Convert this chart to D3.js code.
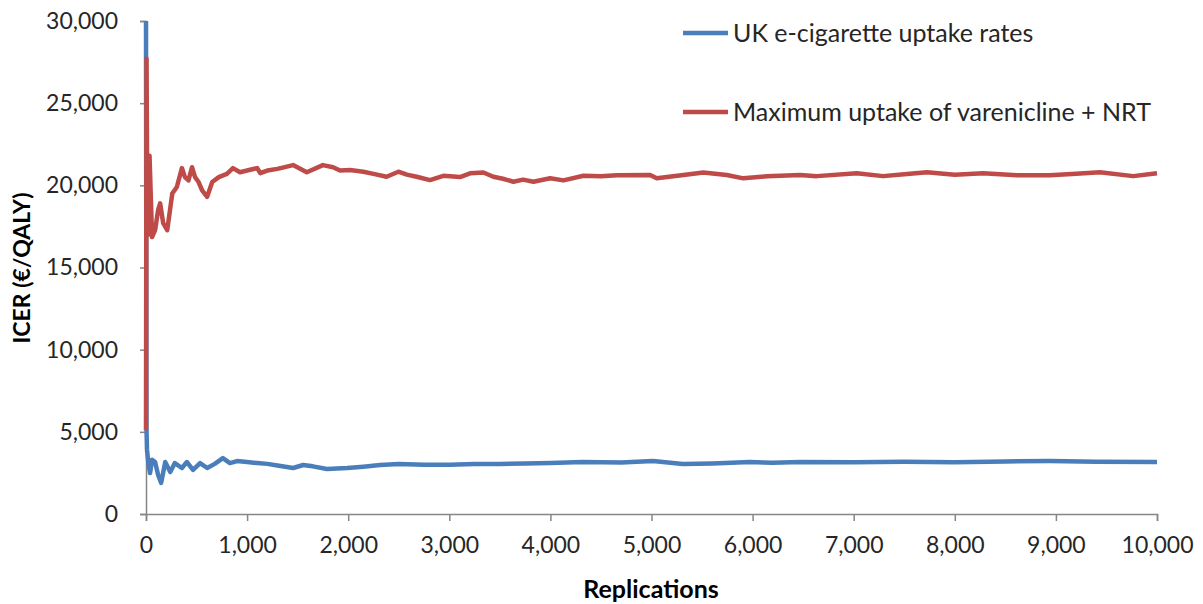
<!DOCTYPE html>
<html><head><meta charset="utf-8">
<script src="https://cdn.jsdelivr.net/npm/d3@7"></script>
<style>
html,body{margin:0;padding:0;background:#fff;}
svg{display:block;font-family:Lato,"Open Sans",sans-serif;}
</style></head>
<body>
<svg id="chart" width="1203" height="604"></svg>
<script>
// ---- data ----
const seriesNames = ["UK e-cigarette uptake rates", "Maximum uptake of varenicline + NRT"];
const blueReps = [0,5,10,25,40,60,90,120,150,190,240,285,355,405,465,535,605,680,760,830,900,1000,1100,1200,1300,1455,1555,1650,1790,1990,2150,2315,2500,2750,3000,3250,3500,3750,4000,4320,4700,5015,5310,5600,5975,6200,6470,7000,7500,8000,8500,8940,9400,10000];
const blueVals = [30000,5100,3900,3000,2490,3300,3160,2370,1890,3160,2550,3100,2800,3160,2680,3100,2800,3050,3400,3100,3220,3160,3100,3050,2950,2800,2980,2900,2740,2800,2880,2980,3040,3000,3000,3040,3040,3080,3100,3160,3130,3220,3040,3080,3160,3120,3160,3150,3180,3150,3200,3220,3180,3160];
const redReps = [0,5,10,20,35,60,90,120,140,170,210,260,305,355,385,420,455,485,520,555,605,655,720,800,860,930,1000,1100,1130,1200,1300,1455,1590,1750,1850,1920,2018,2150,2250,2380,2496,2580,2677,2809,2941,3106,3205,3337,3436,3530,3634,3730,3832,3997,4129,4327,4500,4656,4986,5052,5316,5513,5744,5909,6140,6470,6635,7030,7290,7500,7725,8000,8280,8615,8940,9200,9435,9765,10000];
const redVals = [5100,27700,22000,17000,21800,16850,17270,18500,18900,17700,17270,19500,19900,21050,20500,20300,21100,20500,20200,19700,19300,20200,20500,20700,21050,20800,20900,21050,20740,20900,21000,21230,20800,21230,21100,20900,20930,20830,20700,20525,20830,20650,20525,20320,20580,20500,20730,20780,20525,20400,20220,20350,20220,20430,20300,20580,20550,20620,20630,20430,20630,20780,20630,20425,20550,20630,20560,20740,20560,20680,20800,20650,20740,20620,20620,20700,20800,20560,20740];
const xTicks = [0,1000,2000,3000,4000,5000,6000,7000,8000,9000,10000];
const yTicks = [0,5000,10000,15000,20000,25000,30000];
const colors = ["#4a7ebb", "#be4b48"];

// ---- chart ----
const svg = d3.select("#chart");
const mLeft = 146, mRight = 1157, mTop = 21, mBottom = 514;
const x = d3.scaleLinear().domain([0, 10000]).range([mLeft, mRight]);
const y = d3.scaleLinear().domain([0, 30000]).range([mBottom, mTop]);
const fmt = d3.format(",");
const axisColor = "#868686", textColor = "#262626";

const yAxis = svg.append("g").attr("transform", `translate(${mLeft},0)`)
  .call(d3.axisLeft(y).tickValues(yTicks).tickFormat(fmt).tickSize(6).tickPadding(22));
const xAxis = svg.append("g").attr("transform", `translate(0,${mBottom})`)
  .call(d3.axisBottom(x).tickValues(xTicks).tickFormat(fmt).tickSize(7).tickPadding(16));
[yAxis, xAxis].forEach(g => {
  g.select(".domain").attr("stroke", axisColor).attr("stroke-width", 1.5);
  g.selectAll(".tick line").attr("stroke", axisColor).attr("stroke-width", 1.5);
  g.selectAll("text").attr("fill", textColor).style("font-size", "23px").style("font-family", "Lato, sans-serif");
});

const line = d3.line().x(d => x(d[0])).y(d => y(d[1]));
const series = [d3.zip(blueReps, blueVals), d3.zip(redReps, redVals)];
series.forEach((s, i) => {
  svg.append("path").datum(s).attr("d", line).attr("fill", "none")
    .attr("stroke", colors[i]).attr("stroke-width", 4.5).attr("stroke-linejoin", "round");
});

// legend
const legY = [33, 112];
seriesNames.forEach((n, i) => {
  svg.append("line").attr("x1", 683).attr("x2", 728).attr("y1", legY[i]).attr("y2", legY[i])
    .attr("stroke", colors[i]).attr("stroke-width", 4.5);
  svg.append("text").attr("x", 733).attr("y", legY[i]).attr("dy", "0.35em")
    .attr("fill", textColor).style("font-size", "25px").text(n);
});

// axis titles
svg.append("text").attr("transform", `translate(22,268) rotate(-90)`)
  .attr("text-anchor", "middle").attr("dy", "0.35em").attr("fill", "#000")
  .style("font-size", "23px").style("font-weight", "bold").text("ICER (€/QALY)");
svg.append("text").attr("x", 651).attr("y", 589).attr("text-anchor", "middle").attr("dy", "0.35em")
  .attr("fill", "#000").style("font-size", "25px").style("font-weight", "bold").text("Replications");
</script>
</body></html>
